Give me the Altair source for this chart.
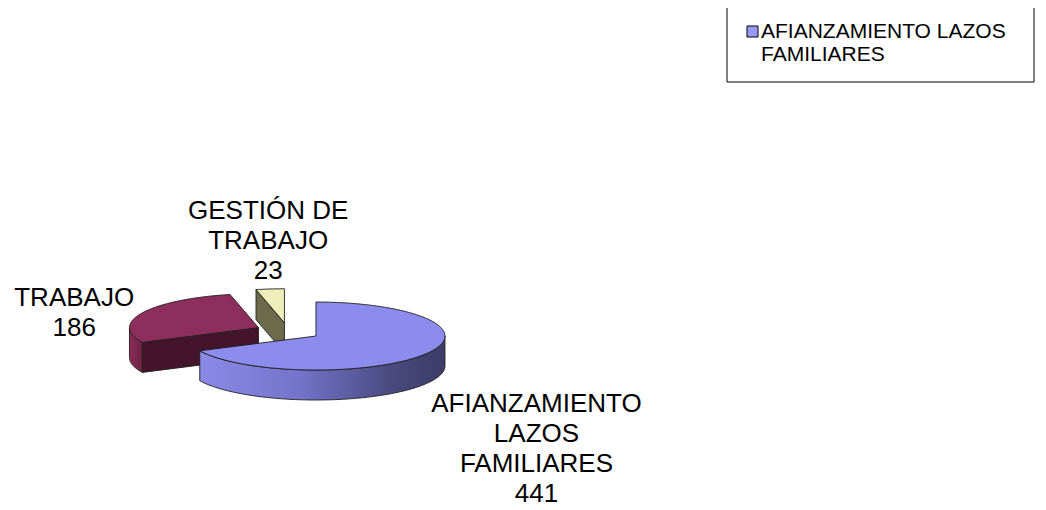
import math
import altair as alt
import pandas as pd

# ---------------- data ----------------
categories = ["AFIANZAMIENTO LAZOS FAMILIARES", "TRABAJO", "GESTIÓN DE TRABAJO"]
values = [441, 186, 23]
label_lines = [["AFIANZAMIENTO", "LAZOS", "FAMILIARES"], ["TRABAJO"], ["GESTIÓN DE", "TRABAJO"]]
legend_lines = ["AFIANZAMIENTO LAZOS", "FAMILIARES"]

# ---------------- style / layout ----------------
W, H = 1030, 502
CX, CY = 288.1, 331.4          # pie centre (page px)
RX, RY = 129.0, 34.0           # ellipse radii of the tilted pie
DEPTH = 30.0                   # thickness of the 3D pie
EXPLODE = 0.255
START = -90.0                  # first slice starts at 12 o'clock, clockwise
top_colors = ["#8C8CEE", "#8E2E5C", "#EEEEBB"]
cut_colors = ["#3C3C66", "#43142A", "#6B6B4C"]
side_fills = [
    alt.Gradient(gradient="linear", x1=0, x2=1, y1=0, y2=0,
                 stops=[alt.GradientStop(color="#8A8AE6", offset=0),
                        alt.GradientStop(color="#7474CC", offset=0.4),
                        alt.GradientStop(color="#4A4A80", offset=0.78),
                        alt.GradientStop(color="#3C3C66", offset=1)]),
    alt.Gradient(gradient="linear", x1=0, x2=1, y1=0, y2=0,
                 stops=[alt.GradientStop(color="#8A2C59", offset=0),
                        alt.GradientStop(color="#6E2247", offset=1)]),
    "#6B6B4C",
]
label_offsets = [(220.5, 76.0), (-184.3, -21.7), (-16.3, -103.7)]  # from slice centre
LABEL_FONT = 26
LINE_H = 30
LEG_BOX = (727, 7, 1034, 82)
LEG_SW = (747, 26, 11)
LEG_TEXT = (761, 38)
LEG_FONT = 21
LEG_LINE_H = 22.5

xs = alt.Scale(domain=[8, 8 + W], nice=False, zero=False)
ys = alt.Scale(domain=[8, 8 + H], nice=False, zero=False, reverse=True)


def ell(cx, cy, a, dy=0.0):
    r = math.radians(a)
    return (cx + RX * math.cos(r), cy + RY * math.sin(r) + dy)


def arc(cx, cy, a0, a1, dy=0.0, step=1.0):
    n = max(2, int(abs(a1 - a0) / step) + 1)
    return [ell(cx, cy, a0 + (a1 - a0) * k / (n - 1), dy) for k in range(n)]


total = sum(values)
polys = []   # (name, points, fill)
slices = []
cum = 0
for i, v in enumerate(values):
    a0 = START + 360.0 * cum / total
    a1 = START + 360.0 * (cum + v) / total
    cum += v
    mid = math.radians((a0 + a1) / 2)
    cx = CX + EXPLODE * RX * math.cos(mid)
    cy = CY + EXPLODE * RY * math.sin(mid)
    slices.append((i, a0, a1, cx, cy))

# back-to-front
for i, a0, a1, cx, cy in sorted(slices, key=lambda s: s[4]):
    # radial cut faces
    if math.cos(math.radians(a0)) < -1e-6:
        p = ell(cx, cy, a0)
        pts = [(cx, cy), p, (p[0], p[1] + DEPTH), (cx, cy + DEPTH)]
        polys.append((f"cut0_{i}", pts, cut_colors[i]))
    if math.cos(math.radians(a1)) > 1e-6:
        p = ell(cx, cy, a1)
        pts = [(cx, cy), p, (p[0], p[1] + DEPTH), (cx, cy + DEPTH)]
        polys.append((f"cut1_{i}", pts, cut_colors[i]))
    # curved outer side (front half only)
    s0, s1 = max(a0, 0.0), min(a1, 180.0)
    if s1 > s0:
        pts = arc(cx, cy, s0, s1) + arc(cx, cy, s1, s0, DEPTH)
        polys.append((f"side_{i}", pts, side_fills[i]))
    # top face
    pts = [(cx, cy)] + arc(cx, cy, a0, a1)
    polys.append((f"top_{i}", pts, top_colors[i]))

rows = []
for name, pts, _ in polys:
    pts = pts + [pts[0]]
    for k, (x, y) in enumerate(pts):
        rows.append({"poly": name, "i": k, "x": x, "y": y})
df = pd.DataFrame(rows)

layers = []
for name, _, fill in polys:
    layers.append(
        alt.Chart(df).transform_filter(alt.datum.poly == name)
        .mark_line(fill=fill, stroke="#1E1E1E", strokeWidth=0.9, strokeJoin="round")
        .encode(x=alt.X("x:Q", scale=xs, axis=None),
                y=alt.Y("y:Q", scale=ys, axis=None),
                order=alt.Order("i:Q"))
    )

# data labels
lab_rows = []
for (i, a0, a1, cx, cy) in slices:
    ox, oy = label_offsets[i]
    lab_rows.append({"x": cx + ox, "y": cy + oy,
                     "t": "\n".join(label_lines[i] + [str(values[i])])})
lab_df = pd.DataFrame(lab_rows)
layers.append(
    alt.Chart(lab_df).mark_text(font="Liberation Sans", fontSize=LABEL_FONT, color="#000000",
                                align="center", baseline="alphabetic", lineBreak="\n",
                                lineHeight=LINE_H)
    .encode(x=alt.X("x:Q", scale=xs, axis=None), y=alt.Y("y:Q", scale=ys, axis=None), text="t:N")
)

# legend (box, swatch, text)
box_df = pd.DataFrame([{"x": LEG_BOX[0], "x2": LEG_BOX[2], "y": LEG_BOX[1], "y2": LEG_BOX[3]}])
layers.append(
    alt.Chart(box_df).mark_rect(fill="#FFFFFF", stroke="#000000", strokeWidth=1)
    .encode(x=alt.X("x:Q", scale=xs, axis=None), x2="x2:Q",
            y=alt.Y("y:Q", scale=ys, axis=None), y2="y2:Q")
)
sw_df = pd.DataFrame([{"x": LEG_SW[0], "x2": LEG_SW[0] + LEG_SW[2],
                       "y": LEG_SW[1], "y2": LEG_SW[1] + LEG_SW[2], "c": categories[0]}])
layers.append(
    alt.Chart(sw_df).mark_rect(fill="#9999FF", stroke="#000000", strokeWidth=1)
    .encode(x=alt.X("x:Q", scale=xs, axis=None), x2="x2:Q",
            y=alt.Y("y:Q", scale=ys, axis=None), y2="y2:Q")
)
lt_df = pd.DataFrame([{"x": LEG_TEXT[0], "y": LEG_TEXT[1], "t": "\n".join(legend_lines)}])
layers.append(
    alt.Chart(lt_df).mark_text(font="Liberation Sans", fontSize=LEG_FONT, color="#000000",
                               align="left", baseline="alphabetic", lineBreak="\n",
                               lineHeight=LEG_LINE_H)
    .encode(x=alt.X("x:Q", scale=xs, axis=None), y=alt.Y("y:Q", scale=ys, axis=None), text="t:N")
)

chart = alt.layer(*layers).properties(
    width=W, height=H, padding=0, autosize="none", background="#FFFFFF"
).configure_view(stroke=None)

chart.save("out.html", embed_options={"renderer": "svg", "actions": False})
